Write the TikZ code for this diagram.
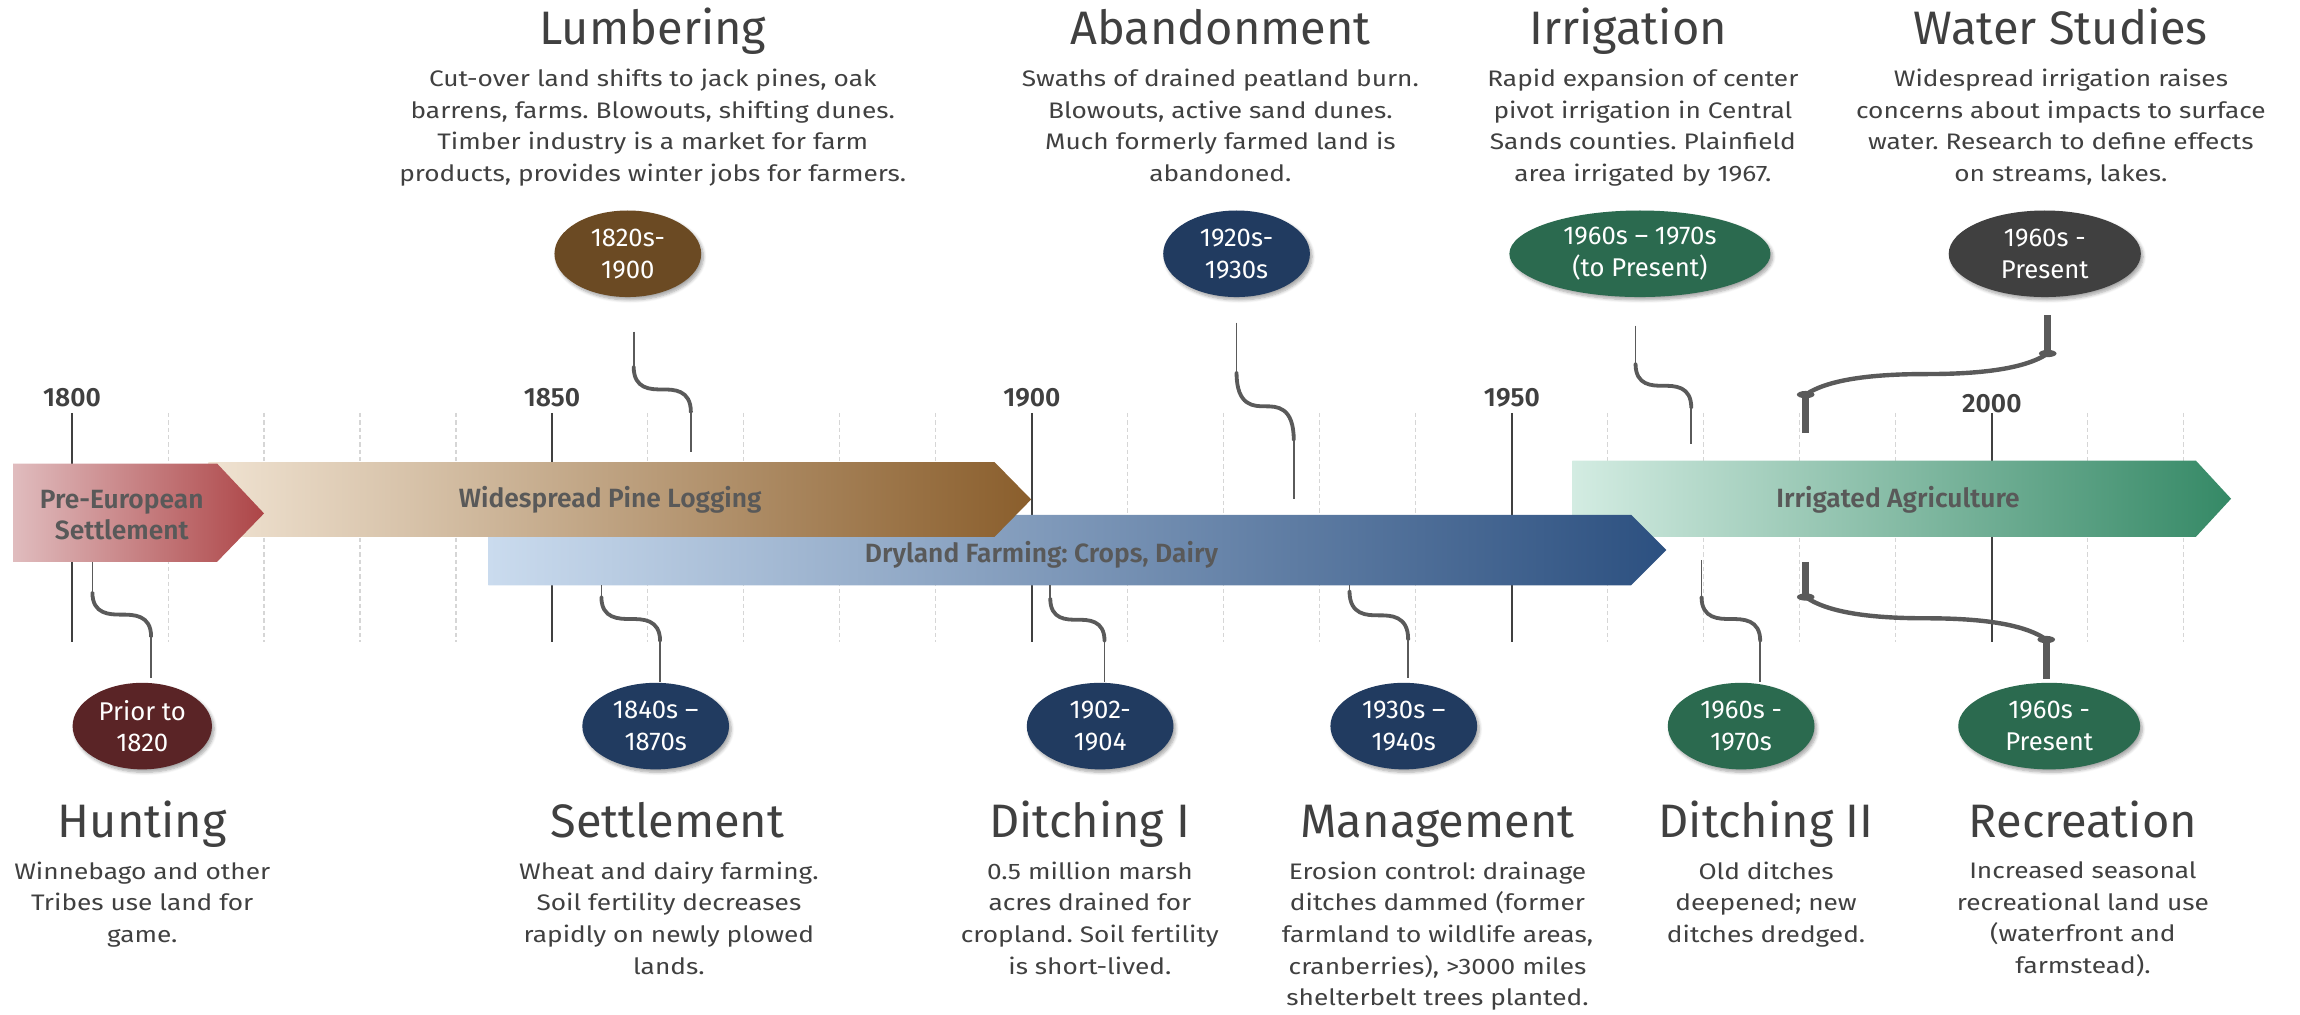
\documentclass[tikz,border=0pt]{standalone}
\usepackage{fontspec}
\setmainfont{Fira Sans}[BoldFont={Fira Sans SemiBold}]
\newfontfamily\notefont{Fira Sans}[FakeStretch=1.17]
\usepackage{tikz}
\usetikzlibrary{shapes.geometric, shadows.blur, calc, positioning}
\frenchspacing

\definecolor{txtgray}{HTML}{404040}
\definecolor{bargray}{HTML}{595959}
\definecolor{linkgray}{HTML}{5A5A5A}
\definecolor{gridgray}{HTML}{D6D6D6}
\definecolor{brownpill}{HTML}{6B4A23}
\definecolor{navypill}{HTML}{213B60}
\definecolor{greenpill}{HTML}{2B6A4F}
\definecolor{darkpill}{HTML}{404040}
\definecolor{maroonpill}{HTML}{5A2426}

\tikzset{
  pill/.style={ellipse, inner sep=0pt, minimum height=59pt, minimum width=100pt, text=white, align=center,
    font=\fontsize{17.5}{21.6}\selectfont,
    blur shadow={shadow xshift=1.5pt, shadow yshift=-2pt, shadow blur steps=6, shadow opacity=35}},
  heading/.style={text=txtgray, font=\fontsize{32}{36}\selectfont, inner sep=0pt, anchor=base},
  blurb/.style={text=txtgray, align=center, font=\notefont\fontsize{15.3}{21.5}\selectfont, inner sep=0pt, anchor=north},
  barlabel/.style={text=bargray, align=center, font=\bfseries\fontsize{18}{21}\selectfont, inner sep=0pt},
  yearlabel/.style={text=txtgray, font=\bfseries\fontsize{18}{20}\selectfont, inner sep=0pt},
  gridline/.style={gridgray, line width=0.7pt, dash pattern=on 3pt off 2pt},
  tickline/.style={txtgray, line width=1.5pt},
  thinlink/.style={linkgray, line width=1.2pt},
  bendlink/.style={linkgray, line width=2.6pt, line cap=round},
  fatlink/.style={linkgray, line width=4.5pt},
}

% S-shaped bend between two named points (upper first)
\newcommand{\sconnect}[3][bendlink]{%
  \draw[#1] let \p1=(#2), \p2=(#3) in
    (\p1) .. controls (\x1,{0.5*(\y1+\y2)}) and ({\x1+0.3*(\x2-\x1)},{0.5*(\y1+\y2)})
    .. ({0.5*(\x1+\x2)},{0.5*(\y1+\y2)})
    .. controls ({\x2-0.3*(\x2-\x1)},{0.5*(\y1+\y2)}) and (\x2,{0.5*(\y1+\y2)}) .. (\p2);}
% long flat bend for the two wide links
\newcommand{\flatconnect}[2]{%
  \draw[bendlink, line width=3pt] let \p1=(#1), \p2=(#2) in
    (\p1) .. controls ({\x1+0.1*(\x2-\x1)},{\y1+0.4*(\y2-\y1)}) and ({\x1+0.3*(\x2-\x1)},{0.5*(\y1+\y2)})
    .. ({0.5*(\x1+\x2)},{0.5*(\y1+\y2)})
    .. controls ({\x2-0.3*(\x2-\x1)},{0.5*(\y1+\y2)}) and ({\x2-0.1*(\x2-\x1)},{\y2-0.4*(\y2-\y1)}) .. (\p2);}

\begin{document}
\begin{tikzpicture}[x=1pt, y=-1pt]
\useasboundingbox (0,0) rectangle (1568,691.3);

% decade grid
\foreach \yr in {1810,1820,...,2020}{
  \pgfmathtruncatemacro{\rest}{mod(\yr,50)}
  \ifnum\rest=0\else
    \draw[gridline] ({49.1+6.544*(\yr-1800)},281.5) -- ++(0,156.5);
  \fi
}

% major ticks and years
\foreach \yr/\ly in {1800/271,1850/271,1900/271,1950/271,2000/275}{
  \draw[tickline] ({49.1+6.544*(\yr-1800)},281.5) -- ++(0,156.5);
  \node[yearlabel] (y\yr) at ({49.1+6.544*(\yr-1800)},\ly) {\yr};
}

% period bars
\shade[left color={rgb,255:red,211;green,236;blue,226}, right color={rgb,255:red,53;green,137;blue,102}]
  (1072,314) -- (1497,314) -- (1521,340) -- (1497,366) -- (1072,366) -- cycle;
\shade[left color={rgb,255:red,202;green,219;blue,238}, right color={rgb,255:red,44;green,80;blue,128}]
  (333,351) -- (1112,351) -- (1136,375) -- (1112,399) -- (333,399) -- cycle;
\shade[left color={rgb,255:red,240;green,227;blue,210}, right color={rgb,255:red,138;green,94;blue,44}]
  (142,315) -- (678,315) -- (703,340.5) -- (678,366) -- (142,366) -- cycle;
\shade[left color={rgb,255:red,224;green,188;blue,190}, right color={rgb,255:red,173;green,69;blue,71}]
  (9,316) -- (148,316) -- (180,350) -- (148,383) -- (9,383) -- cycle;

\node[barlabel] (prebar) at (83,351) {Pre-European\\Settlement};
\node[barlabel] (pinebar) at (416,341) {Widespread Pine Logging};
\node[barlabel] (drybar) at (710,378) {Dryland Farming: Crops, Dairy};
\node[barlabel] (irrbar) at (1294,341) {Irrigated Agriculture};

% thin links: name / x top / y top / y bend / x low / y bend end / y end
\foreach \id/\xa/\ya/\yb/\xb/\yc/\yd in {lum/432/226/250/471/281/308, aban/843/220/254/882/300/340,
    irr/1115/222/248/1153/278/303, hunt/63/383/404/103/434/462, settle/410/399/407/450/437/465,
    ditcha/716/399/408/753/437/465, manage/920/399/403/960/436/462, ditchb/1160/382/407/1200/437/465}{
  \coordinate (\id A) at (\xa,\ya);
  \coordinate (\id B) at (\xa,\yb);
  \coordinate (\id C) at (\xb,\yc);
  \coordinate (\id D) at (\xb,\yd);
  \draw[thinlink] (\id A) -- (\id B);
  \sconnect{\id B}{\id C}
  \draw[thinlink] (\id C) -- (\id D);
}

% wide links
\foreach \id/\xa/\ya/\yb/\xb/\yc/\yd in {water/1396/215/241/1231/269/295, recre/1231/383/407/1395/436/463}{
  \coordinate (\id A) at (\xa,\ya);
  \coordinate (\id B) at (\xa,\yb);
  \coordinate (\id C) at (\xb,\yc);
  \coordinate (\id D) at (\xb,\yd);
  \draw[fatlink] (\id A) -- (\id B);
  \flatconnect{\id B}{\id C}
  \draw[fatlink] (\id C) -- (\id D);
  \fill[linkgray] (\id B) ellipse (6 and 2.5);
  \fill[linkgray] (\id C) ellipse (6 and 2.5);
}

% date pills, top row
\node[pill, fill=brownpill] (lumdate) at (428,173) {1820s-\\1900};
\node[pill, fill=navypill] (abandate) at (843,173) {1920s-\\1930s};
\node[pill, fill=greenpill, minimum width=178pt] (irrdate) at (1118,173) {1960s – 1970s\\(to Present)};
\node[pill, fill=darkpill, minimum width=131pt] (waterdate) at (1394,173) {1960s -\\Present};

% date pills, bottom row
\node[pill, fill=maroonpill, minimum width=95pt] (huntdate) at (97,495) {Prior to\\1820};
\node[pill, fill=navypill] (settledate) at (447,495) {1840s –\\1870s};
\node[pill, fill=navypill] (ditchadate) at (750,495) {1902-\\1904};
\node[pill, fill=navypill] (managedate) at (957,495) {1930s –\\1940s};
\node[pill, fill=greenpill] (ditchbdate) at (1187,495) {1960s -\\1970s};
\node[pill, fill=greenpill, minimum width=124pt] (recredate) at (1397,495) {1960s -\\Present};

% top headings and notes
\node[heading] (lumhead) at (445,30.5) {Lumbering};
\node[blurb] (lumtext) at (445,47) {Cut-over land shifts to jack pines, oak\\barrens, farms. Blowouts, shifting dunes.\\Timber industry is a market for farm\\products, provides winter jobs for farmers.};
\node[heading] (abanhead) at (832,30.5) {Abandonment};
\node[blurb] (abantext) at (832,47) {Swaths of drained peatland burn.\\Blowouts, active sand dunes.\\Much formerly farmed land is\\abandoned.};
\node[heading] (irrhead) at (1110,30.5) {Irrigation};
\node[blurb] (irrtext) at (1120,47) {Rapid expansion of center\\pivot irrigation in Central\\Sands counties. Plainfield\\area irrigated by 1967.};
\node[heading] (waterhead) at (1405,30.5) {Water Studies};
\node[blurb] (watertext) at (1405,47) {Widespread irrigation raises\\concerns about impacts to surface\\water. Research to define effects\\on streams, lakes.};

% bottom headings and notes
\node[heading] (hunthead) at (97,571) {Hunting};
\node[blurb] (hunttext) at (97,587.4) {Winnebago and other\\Tribes use land for\\game.};
\node[heading] (settlehead) at (455,571) {Settlement};
\node[blurb] (settletext) at (456,587.4) {Wheat and dairy farming.\\Soil fertility decreases\\rapidly on newly plowed\\lands.};
\node[heading] (ditchahead) at (743,571) {Ditching I};
\node[blurb] (ditchatext) at (743,587.4) {0.5 million marsh\\acres drained for\\cropland. Soil fertility\\is short-lived.};
\node[heading] (managehead) at (980,571) {Management};
\node[blurb] (managetext) at (980,587.4) {Erosion control: drainage\\ditches dammed (former\\farmland to wildlife areas,\\cranberries), >3000 miles\\shelterbelt trees planted.};
\node[heading] (ditchbhead) at (1204,571) {Ditching II};
\node[blurb] (ditchbtext) at (1204,587.4) {Old ditches\\deepened; new\\ditches dredged.};
\node[heading] (recrehead) at (1420,571) {Recreation};
\node[blurb] (recretext) at (1420,587.4) {Increased seasonal\\recreational land use\\(waterfront and\\farmstead).};

\end{tikzpicture}
\end{document}
